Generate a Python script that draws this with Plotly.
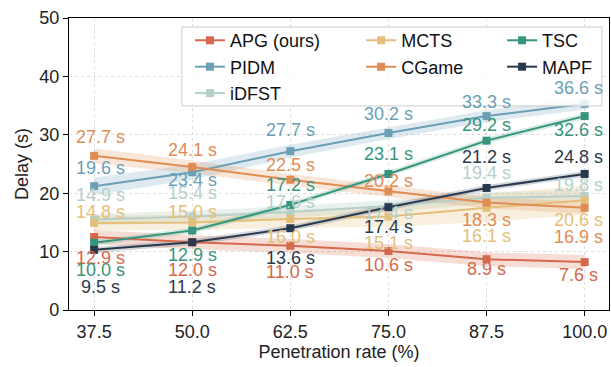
import plotly.graph_objects as go

# ---------------- data ----------------
penetration = [37.5, 50.0, 62.5, 75.0, 87.5, 100.0]

apg_delay   = [12.5, 11.6, 11.0, 10.1, 8.7, 8.2]
pidm_delay  = [21.2, 23.6, 27.2, 30.3, 33.2, 35.3]
idfst_delay = [15.5, 16.0, 16.8, 17.8, 19.2, 19.5]
mcts_delay  = [14.9, 15.0, 15.6, 16.0, 17.5, 18.8]
cgame_delay = [26.4, 24.5, 22.3, 20.3, 18.4, 17.5]
tsc_delay   = [11.5, 13.6, 18.0, 23.3, 29.0, 33.2]
mapf_delay  = [10.3, 11.6, 14.0, 17.6, 20.9, 23.3]

# half-width of the shaded uncertainty band
apg_band   = [1.2, 1.2, 1.2, 1.2, 1.2, 1.2]
pidm_band  = [1.5, 1.3, 1.1, 1.0, 1.0, 1.0]
idfst_band = [1.0, 1.0, 1.0, 1.0, 1.0, 1.0]
mcts_band  = [1.3, 1.3, 1.5, 1.8, 2.4, 2.5]
cgame_band = [1.3, 1.1, 1.0, 1.0, 1.0, 1.0]
tsc_band   = [0.5, 0.5, 0.5, 0.5, 0.5, 0.5]
mapf_band  = [0.5, 0.5, 0.5, 0.5, 0.5, 0.5]

# annotated values
apg_label   = [12.9, 12.0, 11.0, 10.6, 8.9, 7.6]
pidm_label  = [19.6, 23.4, 27.7, 30.2, 33.3, 36.6]
idfst_label = [14.9, 15.4, 17.6, 17.4, 19.4, 19.8]
mcts_label  = [14.8, 15.0, 16.0, 15.1, 16.1, 20.6]
cgame_label = [27.7, 24.1, 22.5, 20.2, 18.3, 16.9]
tsc_label   = [10.0, 12.9, 17.2, 23.1, 29.2, 32.6]
mapf_label  = [9.5, 11.2, 13.6, 17.4, 21.2, 24.8]

# ---------------- layout / style ----------------
# vertical pixel offsets of the value labels (positive = below the marker)
apg_off   = [21, 28, 26, 14, 10, 13]
pidm_off  = [-18, 8, -21, -19, -14, -16]
idfst_off = [-24, -24, -10, 7, -25, -11]
mcts_off  = [-11, -10, 18, 26, 28, 20]
cgame_off = [-19, -17, -15, -10, 17, 29]
tsc_off   = [27, 24, -20, -20, -16, 14]
mapf_off  = [37, 45, 30, 20, -31, -17]
col_xshift = [6, 0, 0, 0, 0, -6]

FONT = "Liberation Sans, Arial, sans-serif"

series = [
    # name, values, band, labels, offsets, color, fill rgba, legend id
    ("APG (ours)", apg_delay,   apg_band,   apg_label,   apg_off,   "#d5694b", "rgba(213,105,75,0.22)", "legend"),
    ("PIDM",       pidm_delay,  pidm_band,  pidm_label,  pidm_off,  "#6b9fb6", "rgba(107,159,182,0.22)", "legend"),
    ("iDFST",      idfst_delay, idfst_band, idfst_label, idfst_off, "#b6d0ca", "rgba(182,208,202,0.30)", "legend"),
    ("MCTS",       mcts_delay,  mcts_band,  mcts_label,  mcts_off,  "#e4bf7a", "rgba(228,191,122,0.25)", "legend2"),
    ("CGame",      cgame_delay, cgame_band, cgame_label, cgame_off, "#df8d54", "rgba(223,141,84,0.22)", "legend2"),
    ("TSC",        tsc_delay,   tsc_band,   tsc_label,   tsc_off,   "#36957c", "rgba(54,149,124,0.20)", "legend3"),
    ("MAPF",       mapf_delay,  mapf_band,  mapf_label,  mapf_off,  "#29394d", "rgba(41,57,77,0.20)", "legend3"),
]

fig = go.Figure()

# bands
for name, vals, band, _, _, color, fillc, leg in series:
    upper = [v + b for v, b in zip(vals, band)]
    lower = [v - b for v, b in zip(vals, band)]
    fig.add_trace(go.Scatter(
        x=penetration + penetration[::-1],
        y=upper + lower[::-1],
        fill="toself", fillcolor=fillc, line=dict(width=0),
        mode="lines", hoverinfo="skip", showlegend=False,
    ))

# lines
for name, vals, band, _, _, color, fillc, leg in series:
    fig.add_trace(go.Scatter(
        x=penetration, y=vals, name=name, mode="lines+markers",
        line=dict(color=color, width=2),
        marker=dict(symbol="square", size=8, color=color),
        legend=leg,
    ))

# value labels
annotations = []
for name, vals, band, labels, offs, color, fillc, leg in series:
    for i, (xv, yv, lv, off) in enumerate(zip(penetration, vals, labels, offs)):
        annotations.append(dict(
            x=xv, y=yv, xref="x", yref="y", text=f"{lv:.1f} s",
            showarrow=False, xanchor="center", yanchor="middle",
            xshift=col_xshift[i], yshift=-off,
            font=dict(family=FONT, size=18, color=color),
        ))

leg_common = dict(
    orientation="v", xanchor="left", yanchor="top",
    bgcolor="rgba(0,0,0,0)", borderwidth=0,
    font=dict(family=FONT, size=18, color="#111111"),
    traceorder="normal", tracegroupgap=0,
)

fig.update_layout(
    width=611, height=367,
    margin=dict(l=69, r=2, t=18, b=57),
    paper_bgcolor="white", plot_bgcolor="white",
    font=dict(family=FONT, size=18, color="#222222"),
    annotations=annotations,
    showlegend=True,
    legend=dict(x=0.224, y=0.986, **leg_common),
    legend2=dict(x=0.541, y=0.986, **leg_common),
    legend3=dict(x=0.802, y=0.986, **leg_common),
    shapes=[dict(
        type="rect", xref="paper", yref="paper",
        x0=0.209, x1=0.987, y0=0.699, y1=0.969,
        fillcolor="rgba(255,255,255,0.82)", line=dict(color="#cccccc", width=1),
        layer="above",
    )],
)

fig.update_xaxes(
    range=[34.3, 103.1], tickvals=penetration,
    ticktext=[f"{v:.1f}" for v in penetration],
    title=dict(text="Penetration rate (%)", font=dict(size=18), standoff=0),
    automargin=False,
    showline=True, linecolor="black", linewidth=1.3, mirror=True,
    ticks="outside", ticklen=5, tickcolor="black",
    showgrid=True, gridcolor="#dddddd", griddash="dot", gridwidth=1,
    zeroline=False, tickfont=dict(size=18),
)
fig.update_yaxes(
    range=[0, 50], tickvals=[0, 10, 20, 30, 40, 50],
    title=dict(text="Delay (s)", font=dict(size=18), standoff=5),
    automargin=False,
    showline=True, linecolor="black", linewidth=1.3, mirror=True,
    ticks="outside", ticklen=5, tickcolor="black",
    showgrid=True, gridcolor="#dddddd", griddash="dot", gridwidth=1,
    zeroline=False, tickfont=dict(size=18),
)

fig.write_html("out.html", config={"displayModeBar": False},
               post_script="document.body.style.margin='0px';")
